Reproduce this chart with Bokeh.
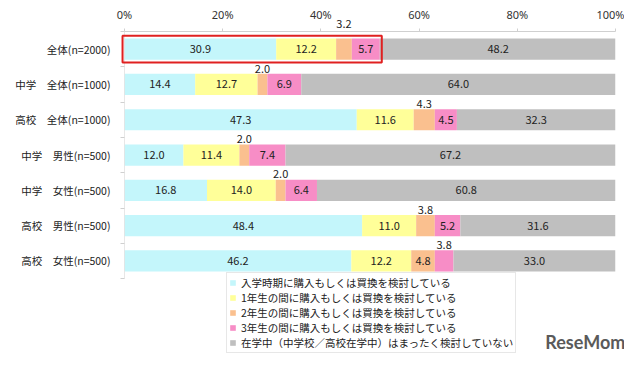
from bokeh.plotting import figure
from bokeh.models import (ColumnDataSource, Range1d, FixedTicker,
                          PrintfTickFormatter, Legend)
from bokeh.core.properties import value
from bokeh.embed import file_html
from bokeh.resources import INLINE

categories = ["全体(n=2000)", "中学　全体(n=1000)", "高校　全体(n=1000)",
              "中学　男性(n=500)", "中学　女性(n=500)", "高校　男性(n=500)",
              "高校　女性(n=500)"]
s_entry = [30.9, 14.4, 47.3, 12.0, 16.8, 48.4, 46.2]
s_year1 = [12.2, 12.7, 11.6, 11.4, 14.0, 11.0, 12.2]
s_year2 = [3.2, 2.0, 4.3, 2.0, 2.0, 3.8, 4.8]
s_year3 = [5.7, 6.9, 4.5, 7.4, 6.4, 5.2, 3.8]
s_none = [48.2, 64.0, 32.3, 67.2, 60.8, 31.6, 33.0]
series_names = ["入学時期に購入もしくは買換を検討している",
                "1年生の間に購入もしくは買換を検討している",
                "2年生の間に購入もしくは買換を検討している",
                "3年生の間に購入もしくは買換を検討している",
                "在学中（中学校／高校在学中）はまったく検討していない"]
x_ticks = [0, 20, 40, 60, 80, 100]
watermark = "ReseMom"

colors = ["#c4f6fb", "#ffff99", "#fac08f", "#f78dc6", "#bfbfbf"]
FONT = "Noto Sans CJK JP"

n = len(categories)
ypos = [n - 1 - i for i in range(n)]          # top row highest
series = [s_entry, s_year1, s_year2, s_year3, s_none]
keys = ["s1", "s2", "s3", "s4", "s5"]
data = {"y": ypos}
for k, s in zip(keys, series):
    data[k] = s
source = ColumnDataSource(data)

p = figure(width=624, height=354, output_backend="svg", toolbar_location=None,
           y_range=Range1d(n - 0.5 - 9.15, n - 0.5),
           x_range=Range1d(0, 100), x_axis_location="above",
           min_border_left=124, min_border_right=9, min_border_top=31,
           min_border_bottom=0)
p.outline_line_color = None
p.xgrid.grid_line_color = None
p.ygrid.grid_line_color = None

renderers = p.hbar_stack(keys, y="y", height=0.6, fill_color=colors,
                         line_color=None, source=source)

# left axis line spanning the category rows
p.segment(x0=[0], x1=[0], y0=[-0.5], y1=[n - 0.5], line_color="#d0d0d0",
          line_width=1)

# value labels
in_x, in_y, in_t = [], [], []
out_x, out_y, out_t = [], [], []
for i in range(n):
    cum = 0.0
    for s in series:
        v = s[i]
        c = cum + v / 2
        cum += v
        if v >= 4.4:
            in_x.append(c); in_y.append(ypos[i]); in_t.append(f"{v:.1f}")
        else:
            off = 0.72 if i == 0 else 0.45
            out_x.append(c); out_y.append(ypos[i] + off); out_t.append(f"{v:.1f}")

p.text(x=in_x, y=in_y, text=in_t, text_align="center", text_baseline="middle",
       text_font=value(FONT), text_font_size="11px", text_color="#222222")
p.text(x=out_x, y=out_y, text=out_t, text_align="center",
       text_baseline="middle", text_font=value(FONT), text_font_size="11px",
       text_color="#222222", level="overlay")

# highlight box around first row
first_sum = s_entry[0] + s_year1[0] + s_year2[0] + s_year3[0]
p.rect(x=[first_sum / 2], y=[ypos[0]],
       width=[first_sum + 0.8], height=0.76, fill_color=None,
       line_color="#e02020", line_width=2, level="overlay")

# axes
xa = p.xaxis[0]
xa.ticker = FixedTicker(ticks=x_ticks)
xa.formatter = PrintfTickFormatter(format="%d%%")
xa.axis_line_color = "#d0d0d0"
xa.major_tick_line_color = "#d0d0d0"
xa.major_tick_out = 3
xa.major_tick_in = 0
xa.minor_tick_line_color = None
xa.major_label_text_font = "Noto Sans"
xa.major_label_text_font_size = "11px"
xa.major_label_text_color = "#333333"
xa.major_label_standoff = 7

ya = p.yaxis[0]
ya.ticker = FixedTicker(ticks=ypos, minor_ticks=[k - 0.5 for k in range(n + 1)])
ya.major_label_overrides = {y: c for y, c in zip(ypos, categories)}
ya.axis_line_color = None
ya.major_tick_line_color = None
ya.minor_tick_line_color = "#d0d0d0"
ya.minor_tick_out = 4
ya.minor_tick_in = 0
ya.major_label_text_font = FONT
ya.major_label_text_font_size = "10.5px"
ya.major_label_text_color = "#222222"
ya.major_label_standoff = 8

legend = Legend(items=[(nm, [r]) for nm, r in zip(series_names, renderers)],
                location=(102, 1))
legend.border_line_color = "#d0d0d0"
legend.border_line_width = 1
legend.background_fill_color = "white"
legend.background_fill_alpha = 1
legend.label_text_font = FONT
legend.label_text_font_size = "10.5px"
legend.label_text_color = "#222222"
legend.glyph_width = 7
legend.glyph_height = 7
legend.label_height = 13
legend.label_standoff = 5
legend.spacing = 0
legend.padding = 2
legend.margin = 0
p.add_layout(legend, "center")

# watermark in the lower right corner
p.text(x=[102.0], y=[n - 0.5 - 8.81], text=[watermark],
       text_font=value("Lato"), text_font_size="18px",
       text_font_style="bold", text_color="#5a5a5a", text_align="right",
       text_baseline="middle", level="overlay")

open("out.html", "w").write(file_html(p, INLINE))
